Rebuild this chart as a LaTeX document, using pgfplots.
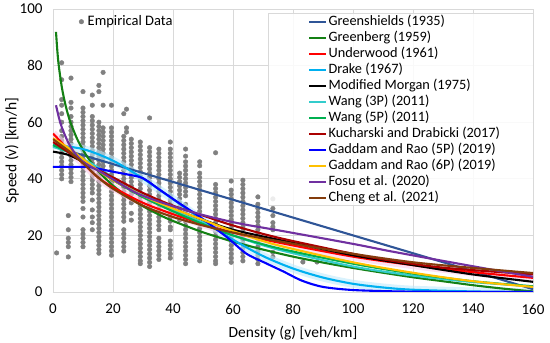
\documentclass[border=0pt]{standalone}
\usepackage{pgfplots}
\pgfplotsset{compat=1.18}
\usepackage{fontspec}
\setmainfont{Carlito}
\definecolor{gridgray}{RGB}{217,217,217}
\definecolor{ptgray}{RGB}{128,128,128}
\definecolor{cGreenshields}{RGB}{47,85,151}
\definecolor{cGreenberg}{RGB}{20,128,20}
\definecolor{cUnderwood}{RGB}{255,0,0}
\definecolor{cDrake}{RGB}{0,176,240}
\definecolor{cWangA}{RGB}{51,204,204}
\definecolor{cWangB}{RGB}{0,176,80}
\definecolor{cKuch}{RGB}{170,0,0}
\definecolor{cGadA}{RGB}{0,0,255}
\definecolor{cGadB}{RGB}{255,192,0}
\definecolor{cFosu}{RGB}{112,48,160}
\definecolor{cCheng}{RGB}{132,60,12}
\begin{document}
\begin{tikzpicture}
\path[use as bounding box] (-53pt,-51pt) rectangle (497pt,292pt);
\pgfplotsset{base/.style={scale only axis, width=480pt, height=283pt,
  xmin=0, xmax=160, ymin=0, ymax=100},
  cv/.style={line width=2.1pt, smooth, no markers}}
\begin{axis}[base,
  xtick={0,20,...,160}, ytick={0,20,...,100},
  grid=major, major grid style={draw=gridgray, line width=0.6pt},
  axis line style={draw=gridgray, line width=0.6pt},
  tick style={draw=none},
  /pgf/number format/assume math mode=true,
  ticklabel style={font=\fontsize{15}{17}\selectfont, text=black},
  xticklabel style={yshift=-8.5pt},
  yticklabel style={xshift=-7pt},
  xlabel={Density (g) [veh/km]}, ylabel={Speed (v) [km/h]},
  label style={font=\fontsize{15.5}{17}\selectfont},
  xlabel style={at={(axis description cs:0.5,-0.145)}, anchor=center},
  ylabel style={at={(axis description cs:-0.0854,0.5)}, anchor=center},
  legend style={at={(axis description cs:0.054,0.984)}, anchor=north west, draw=none, fill=none,
    inner sep=0pt, font=\fontsize{14.5}{16}\selectfont,
    nodes={text height=10.5pt, text depth=3.5pt, inner ysep=1pt, inner xsep=4pt}},
  legend image code/.code={\draw[#1] plot coordinates {(3pt,0pt)};}
]
\addplot[only marks, mark=*, mark size=2.3pt, color=ptgray] coordinates {
(1.2,13.8)
(2.9,81)(2.9,75)(2.9,68)(2.9,66)(2.9,63)(2.9,60)(2.9,57)(2.9,55)(2.9,53.5)(2.9,52)(2.9,50.5)(2.9,49)(2.9,47.5)(2.9,46)(2.9,44.5)(2.9,43)(2.9,41.5)(2.9,40)
(5.1,27)(5.1,22)(5.1,19)(5.1,17.5)(5.1,16)(5.1,12.4)
(6,75.6)(6,67)(6,65)(6,62)(6,60)(6,58.5)(6,57)(6,55.5)(6,54)(6,52.5)(6,51)(6,49.5)(6,48)(6,46.5)(6,45)(6,43.5)(6,42)(6,40.5)(6,39)
(10,70.8)(10,65)(10,63.5)(10,62)(10,60.5)(10,59)(10,57.5)(10,56)(10,54.5)(10,53)(10,51.5)(10,50)(10,48.5)(10,47)(10,45.5)(10,44)(10,42.5)(10,41)(10,39.5)(10,38)(10,36.5)(10,35)(10,33.5)(10,32)(10,29.5)(10,26.5)(10,22)(10,20.5)(10,19)(10,17.5)(10,16)
(13.1,69.6)(13.1,66)(13.1,62)(13.1,60.5)(13.1,59)(13.1,57.5)(13.1,56)(13.1,54.5)(13.1,53)(13.1,51.5)(13.1,50)(13.1,48.5)(13.1,47)(13.1,45.5)(13.1,44)(13.1,42.5)(13.1,41)(13.1,39.5)(13.1,38)(13.1,36.5)(13.1,35)(13.1,32.5)(13.1,29)(13.1,26.5)(13.1,24.5)(13.1,22)
(15.3,73)(15.3,70.8)(15.3,60)(15.3,58.5)(15.3,57)(15.3,55.5)(15.3,54)(15.3,52.5)(15.3,51)(15.3,49.5)(15.3,48)(15.3,46.5)(15.3,45)(15.3,43.5)(15.3,42)(15.3,40.5)(15.3,39)(15.3,37.5)(15.3,36)(15.3,34.5)(15.3,33)(15.3,31.5)(15.3,30)(15.3,28.5)(15.3,27)(15.3,25.5)(15.3,24)(15.3,22.5)(15.3,21)(15.3,19.5)(15.3,18)(15.3,16.5)(15.3,15)(15.3,13.7)
(16.7,77.6)(16.7,66)(16.7,58)(16.7,56.5)(16.7,55)(16.7,53.5)(16.7,52)(16.7,50.5)(16.7,49)(16.7,47.5)(16.7,46)(16.7,44.5)(16.7,43)
(19.5,66)(19.5,58)(19.5,56.5)(19.5,55)(19.5,53.5)(19.5,52)(19.5,50.5)(19.5,49)(19.5,47.5)(19.5,46)(19.5,44.5)(19.5,43)(19.5,41.5)(19.5,40)(19.5,38.5)(19.5,37)(19.5,35.5)(19.5,34)(19.5,32.5)(19.5,31)(19.5,29.5)(19.5,28)(19.5,26.5)(19.5,25)(19.5,23.5)(19.5,22)(19.5,20.5)(19.5,19)(19.5,17.5)(19.5,16)(19.5,14.5)(19.5,13)
(23.6,63)(23.6,55)(23.6,53.5)(23.6,52)(23.6,50.5)(23.6,49)(23.6,47.5)(23.6,46)(23.6,44.5)(23.6,43)(23.6,41.5)(23.6,40)(23.6,38.5)(23.6,37)(23.6,35.5)(23.6,34)(23.6,32.5)(23.6,31)(23.6,29.5)(23.6,28)(23.6,26.5)(23.6,25)(23.6,22)(23.6,20.5)(23.6,19)(23.6,17.5)(23.6,16)(23.6,14.5)
(24.5,64.6)(24.5,58)(24.5,56.5)
(26.1,54)(26.1,52.5)(26.1,51)(26.1,49.5)(26.1,48)(26.1,46.5)(26.1,45)(26.1,43.5)(26.1,42)(26.1,40.5)(26.1,39)(26.1,37.5)(26.1,36)(26.1,34.5)(26.1,33)(26.1,31.5)(26.1,27.8)(26.1,25.4)
(29.1,53)(29.1,51.5)(29.1,50)(29.1,48.5)(29.1,47)(29.1,45.5)(29.1,44)(29.1,42.5)(29.1,41)(29.1,39.5)(29.1,38)(29.1,36.5)(29.1,35)(29.1,33.5)(29.1,32)(29.1,30.5)(29.1,29)(29.1,27.5)(29.1,26)(29.1,24.5)(29.1,23)(29.1,21.5)(29.1,20)(29.1,18.5)(29.1,17)(29.1,15.5)(29.1,14)(29.1,12.5)(29.1,11)(29.1,10)
(32.2,61.5)(32.2,51)(32.2,49.5)(32.2,48)(32.2,46.5)(32.2,45)(32.2,43.5)(32.2,42)(32.2,40.5)(32.2,39)(32.2,37.5)(32.2,36)(32.2,34.5)(32.2,33)(32.2,31.5)(32.2,30)(32.2,28.5)(32.2,27)(32.2,25.5)(32.2,24)(32.2,22.5)(32.2,21)(32.2,19.5)(32.2,18)(32.2,16.5)(32.2,15)(32.2,13.5)(32.2,12)(32.2,10.5)(32.2,9)
(35.3,50.5)(35.3,49)(35.3,47.5)(35.3,46)(35.3,44.5)(35.3,43)(35.3,41.5)(35.3,40)(35.3,38.5)(35.3,37)(35.3,35.5)(35.3,34)(35.3,32.5)(35.3,31)(35.3,29.5)(35.3,28)(35.3,26.5)(35.3,25)(35.3,23.5)(35.3,22)(35.3,19)(35.3,17.5)(35.3,16)(35.3,14.5)(35.3,13)(35.3,11.5)
(39.1,53)(39.1,50.5)(39.1,49)(39.1,47.5)(39.1,46)(39.1,44.5)(39.1,43)(39.1,41.5)(39.1,40)(39.1,38.5)(39.1,37)(39.1,35.5)(39.1,34)(39.1,32.5)(39.1,31)(39.1,29.5)(39.1,28)(39.1,26.5)(39.1,25)(39.1,23)(39.1,22)(39.1,18)(39.1,16.5)(39.1,15)(39.1,13.5)(39.1,12)
(42.2,42)(42.2,40.5)(42.2,39)(42.2,37.5)(42.2,36)(42.2,34.5)(42.2,33)(42.2,31.5)(42.2,30)(42.2,28.5)(42.2,27)(42.2,25.5)
(44.2,50.5)(44.2,48)(44.2,46)(44.2,44.5)(44.2,43)(44.2,41.5)(44.2,40)(44.2,38.5)(44.2,37)(44.2,35.5)(44.2,34)(44.2,31)(44.2,29.5)(44.2,28)(44.2,26.5)(44.2,25)(44.2,23.5)(44.2,22)(44.2,20.5)(44.2,19)(44.2,17.5)(44.2,16)(44.2,14.5)(44.2,13)(44.2,11.5)(44.2,10)
(48.9,46)(48.9,44.6)(48.9,42)(48.9,40.5)(48.9,39)(48.9,37.5)(48.9,36)(48.9,34.5)(48.9,33)(48.9,31.5)(48.9,30)(48.9,28.5)(48.9,27)(48.9,25.5)(48.9,24)(48.9,22.5)(48.9,21)(48.9,19.5)(48.9,18)(48.9,16.5)(48.9,15)(48.9,13.5)(48.9,12)(48.9,11)
(54.2,49.2)(54.2,38)(54.2,36.5)(54.2,35)(54.2,33.5)(54.2,32)(54.2,30.5)(54.2,29)(54.2,27.5)(54.2,26)(54.2,24.5)(54.2,23)(54.2,21.5)(54.2,20)(54.2,18.5)(54.2,17)(54.2,15.5)(54.2,14)(54.2,12.5)(54.2,11)(54.2,10)
(59.4,39.2)(59.4,36)(59.4,34.5)(59.4,33)(59.4,31.5)(59.4,30)(59.4,28.5)(59.4,27)(59.4,25.5)(59.4,24)(59.4,22.5)(59.4,21)(59.4,19.5)(59.4,18)(59.4,16.5)(59.4,15)(59.4,13.5)(59.4,12)(59.4,10.5)
(63.3,39.5)(63.3,38)(63.3,36.5)(63.3,35)(63.3,33.5)(63.3,32)(63.3,30.5)(63.3,29)(63.3,27.5)(63.3,26)(63.3,24.5)(63.3,23)(63.3,21.5)(63.3,20)(63.3,18.5)(63.3,17)(63.3,15.5)(63.3,14)(63.3,12.5)(63.3,11)
(68.3,33.6)(68.3,31)(68.3,29.5)(68.3,28)(68.3,26.5)(68.3,25)(68.3,23.5)(68.3,22)(68.3,20.5)(68.3,19)(68.3,17.5)(68.3,16)(68.3,14.5)(68.3,13)(68.3,11.5)(68.3,10)
(73.3,32.9)(73.3,29.5)(73.3,27)(73.3,24.5)(73.3,23)(73.3,22)(73.3,14)(73.3,12.4)
(83.3,10.6)(88,10.6)
};
\addlegendentry{Empirical Data}
\end{axis}
\begin{axis}[base, hide axis,
  legend style={at={(axis description cs:0.531,0.984)}, anchor=north west, draw=none, fill=none,
    inner sep=0pt, row sep=0pt, font=\fontsize{14.3}{16}\selectfont,
    nodes={text height=10.5pt, text depth=3.5pt, inner ysep=1pt, inner xsep=1.5pt}},
  legend cell align=left,
  legend image code/.code={\draw[#1, line width=2pt] (0pt,0pt) -- (17pt,0pt);}
]
\draw[gridgray, line width=0.6pt, fill=white, fill opacity=0.85] (axis description cs:0.448,0.307) rectangle (axis description cs:1,0.986);
% glows
\addplot[line width=8pt, smooth, color=cyan!25, opacity=0.6, forget plot] coordinates {(0,52)(10,50.5)(20,46.4)(30,40.1)(40,32.8)(50,25.3)(60,18.5)(70,12.7)(80,8.3)(90,5.1)(100,2.9)(110,1.6)(120,0.8)(140,0.2)(160,0)};
\addplot[line width=8pt, smooth, color=magenta!20, opacity=0.6, forget plot] coordinates {(0,56)(5,50.5)(10,45.5)(15,40.5)(20,37)(30,31.5)(40,27.5)(50,24)(60,21)(75,17.5)(100,12.5)(120,9.5)(140,7)(160,5)};
% curves
\addplot[cv, color=cGreenshields] coordinates {(0,51.5)(40,38.9)(80,26.3)(120,13.7)(160,1.0)};
\addlegendentry{Greenshields (1935)}
\addplot[cv, color=cGreenberg] coordinates {(1,91.9)(1.5,84.5)(2,79.3)(3,72.0)(4,66.8)(5,62.7)(6,59.4)(8,54.2)(10,50.2)(12,46.9)(15,42.8)(20,37.6)(25,33.6)(30,30.3)(35,27.5)(40,25.1)(50,21.1)(60,17.8)(70,15.0)(80,12.5)(90,10.4)(100,8.5)(110,6.8)(120,5.2)(130,3.8)(140,2.4)(150,1.2)(160,0.2)};
\addlegendentry{Greenberg (1959)}
\addplot[cv, color=cUnderwood] coordinates {(0,56)(5,50.5)(10,45.5)(15,40.5)(20,37)(30,31.5)(40,27.5)(50,24)(60,21)(75,17.5)(100,12.5)(120,9.5)(140,7)(160,5)};
\addlegendentry{Underwood (1961)}
\addplot[cv, color=cDrake] coordinates {(0,52)(10,50.5)(20,46.4)(30,40.1)(40,32.8)(50,25.3)(60,18.5)(70,12.7)(80,8.3)(90,5.1)(100,2.9)(110,1.6)(120,0.8)(140,0.2)(160,0)};
\addlegendentry{Drake (1967)}
\addplot[cv, color=black] coordinates {(0,49.6)(5,48.5)(10,46)(15,43)(20,40)(30,34.5)(40,29.5)(50,25.5)(60,22)(75,18.5)(100,13)(120,9.5)(140,6.2)(160,3.6)};
\addlegendentry{Modified Morgan (1975)}
\addplot[cv, color=cWangA] coordinates {(0,51.3)(5,49.5)(10,47)(15,44)(20,40.5)(30,34.5)(40,29)(50,24.5)(60,20)(75,15)(100,9)(120,5.8)(140,3.5)(160,2)};
\addlegendentry{Wang (3P) (2011)}
\addplot[cv, color=cWangB] coordinates {(0,51.9)(5,49.5)(10,46.5)(15,43)(20,39.5)(30,33.5)(40,28.5)(50,24)(60,20)(75,15.5)(100,10)(120,6.5)(140,3.8)(160,2)};
\addlegendentry{Wang (5P) (2011)}
\addplot[cv, color=cKuch] coordinates {(0,53)(5,49.5)(10,46)(20,40.5)(30,35)(40,30.5)(50,27)(60,23.5)(75,19.2)(100,13.5)(112,11.2)(130,8.6)(160,6.2)};
\addlegendentry{Kucharski and Drabicki (2017)}
\addplot[cv, color=cGadA] coordinates {(0,44.2)(5,44.2)(11.7,44.2)(15,43.6)(20,42.5)(25,41.5)(30,40.2)(35.6,36.1)(42.2,31.3)(48.9,26.6)(57.8,19.5)(64.4,13.6)(71.1,10.1)(76.7,7.3)(83,4)(90,1.8)(100,0.7)(115,0.2)(130,0.05)(160,0)};
\addlegendentry{Gaddam and Rao (5P) (2019)}
\addplot[cv, color=cGadB] coordinates {(0,54.3)(5,51)(10,47)(15,43)(20,39.5)(30,34)(40,29.5)(50,25.5)(60,21.5)(75,16.5)(100,10.5)(120,6.8)(140,3.8)(160,1.8)};
\addlegendentry{Gaddam and Rao (6P) (2019)}
\addplot[cv, color=cFosu] coordinates {(1,66)(2,61.5)(3,58)(5,53)(7,49.5)(10,46)(16.7,41.9)(27.8,35)(38.9,30.7)(50,27.2)(62.2,24.2)(76.7,21.5)(100,17)(112,14.5)(130,11)(150,7.2)(160,5.4)};
\addlegendentry{Fosu et al. (2020)}
\addplot[cv, color=cCheng] coordinates {(0,54)(5,50)(10,45.5)(15,40.5)(20,36.5)(30,30.5)(40,26.5)(50,23.5)(60,21)(75,18)(100,13.5)(120,10.5)(140,8.5)(160,6.7)};
\addlegendentry{Cheng et al. (2021)}
\end{axis}
\end{tikzpicture}
\end{document}
